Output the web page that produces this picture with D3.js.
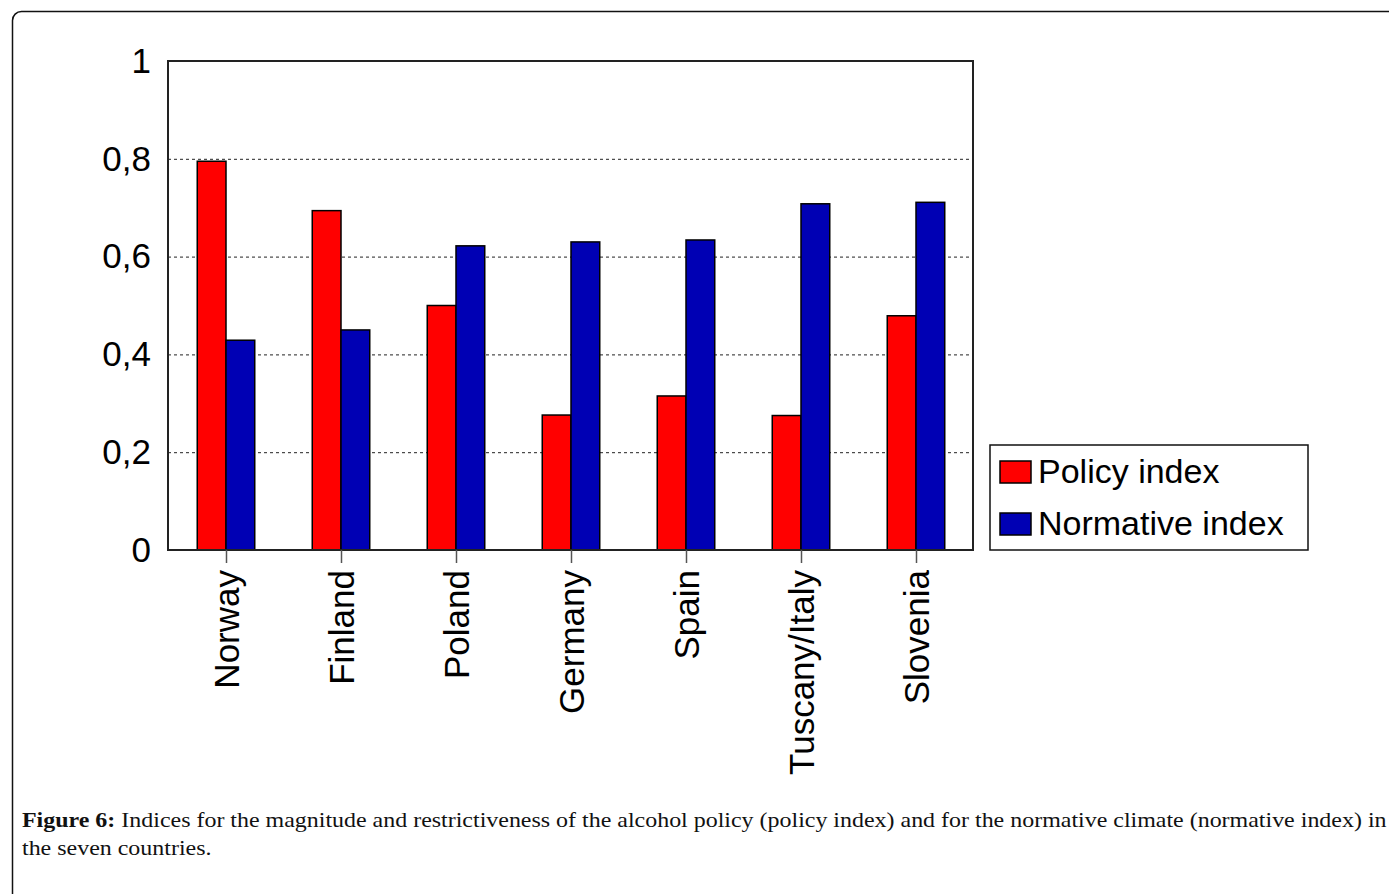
<!DOCTYPE html>
<html>
  <head>
    <meta charset="utf-8">
    <title>Policy and normative index</title>
    <style>
      body { margin: 0; background: #fff; }
      .axis text { font-family: "Liberation Sans", Arial, sans-serif; font-size: 35px; fill: #000; }
      .grid line { stroke: #222; stroke-dasharray: 3,3; }
      .caption { font-family: "Liberation Serif", serif; font-size: 21px; fill: #111; }
    </style>
  </head>
  <body>
    <script src="https://cdn.jsdelivr.net/npm/d3@7"></script>
    <script>
    var countries = ["Norway", "Finland", "Poland", "Germany", "Spain", "Tuscany/Italy", "Slovenia"];
    var policyIndex = [0.795, 0.694, 0.5, 0.276, 0.315, 0.275, 0.479];
    var normativeIndex = [0.429, 0.45, 0.622, 0.63, 0.634, 0.708, 0.711];
    var seriesNames = ["Policy index", "Normative index"];
    var seriesColors = ["#ff0000", "#0000b4"];
    var yTicks = [0, 0.2, 0.4, 0.6, 0.8, 1];

    var width = 1389, height = 894;
    var svg = d3.select("body").append("svg")
      .attr("width", width).attr("height", height);

    // outer frame (runs off the right and bottom edge)
    svg.append("rect")
      .attr("x", 12.5).attr("y", 11.5)
      .attr("width", 1500).attr("height", 1000)
      .attr("rx", 9)
      .attr("fill", "none").attr("stroke", "#111").attr("stroke-width", 1.5);

    var plot = { left: 168, right: 973, top: 61, bottom: 550 };

    var x = d3.scaleBand()
      .domain(countries)
      .range([plot.left, plot.right])
      .paddingInner(0.5).paddingOuter(0.25);
    var xSub = d3.scaleBand()
      .domain(seriesNames)
      .range([0, x.bandwidth()]);
    var y = d3.scaleLinear()
      .domain([0, 1])
      .range([plot.bottom, plot.top]);

    // grid lines
    svg.append("g").attr("class", "grid")
      .selectAll("line")
      .data(yTicks.filter(d => d > 0 && d < 1))
      .enter().append("line")
      .attr("x1", plot.left).attr("x2", plot.right)
      .attr("y1", d => y(d) + 0.5).attr("y2", d => y(d) + 0.5);

    // bars
    var rows = countries.map((c, i) => ({ country: c, values: [policyIndex[i], normativeIndex[i]] }));
    var groups = svg.append("g").selectAll("g")
      .data(rows).enter().append("g")
      .attr("transform", d => "translate(" + (x(d.country) + 0.5) + ",0)");
    groups.selectAll("rect")
      .data(d => d.values.map((v, j) => ({ name: seriesNames[j], value: v, color: seriesColors[j] })))
      .enter().append("rect")
      .attr("x", d => xSub(d.name))
      .attr("y", d => y(d.value))
      .attr("width", xSub.bandwidth())
      .attr("height", d => y(0) - y(d.value))
      .attr("fill", d => d.color)
      .attr("stroke", "#000").attr("stroke-width", 1.5);

    // plot frame
    svg.append("rect")
      .attr("x", plot.left).attr("y", plot.top)
      .attr("width", plot.right - plot.left).attr("height", plot.bottom - plot.top)
      .attr("fill", "none").attr("stroke", "#222").attr("stroke-width", 2);

    // y axis labels
    var yAxis = d3.axisLeft(y)
      .tickValues(yTicks)
      .tickSize(0).tickPadding(17)
      .tickFormat(d => String(d).replace(".", ","));
    svg.append("g").attr("class", "axis")
      .attr("transform", "translate(" + plot.left + ",0)")
      .call(yAxis)
      .call(g => g.select(".domain").remove());

    // x axis
    var xAxis = d3.axisBottom(x).tickSize(13).tickPadding(8);
    var gx = svg.append("g").attr("class", "axis")
      .attr("transform", "translate(1," + plot.bottom + ")")
      .call(xAxis);
    gx.select(".domain").remove();
    gx.selectAll(".tick line").attr("stroke", "#555").attr("stroke-width", 1.5);
    gx.selectAll(".tick text")
      .attr("transform", "rotate(-90)")
      .attr("x", -20).attr("y", 0)
      .attr("dy", "0.35em")
      .attr("text-anchor", "end");

    // legend
    var legend = svg.append("g").attr("transform", "translate(990,445)");
    legend.append("rect")
      .attr("width", 318).attr("height", 105)
      .attr("fill", "#fff").attr("stroke", "#111").attr("stroke-width", 1.5);
    var items = legend.selectAll(".item")
      .data(seriesNames).enter().append("g")
      .attr("transform", (d, i) => "translate(10," + (16 + i * 52) + ")");
    items.append("rect")
      .attr("width", 31).attr("height", 22)
      .attr("fill", (d, i) => seriesColors[i])
      .attr("stroke", "#000").attr("stroke-width", 1.5);
    items.append("text")
      .attr("x", 38).attr("y", 22)
      .attr("font-family", "Liberation Sans, Arial, sans-serif")
      .attr("font-size", 34)
      .text(d => d);

    // caption
    var cap1 = svg.append("text").attr("class", "caption")
      .attr("x", 0).attr("y", 0);
    cap1.append("tspan").attr("font-weight", "bold").text("Figure 6:");
    cap1.append("tspan").text(" Indices for the magnitude and restrictiveness of the alcohol policy (policy index) and for the normative climate (normative index) in");
    var w1 = cap1.node().getComputedTextLength();
    var sx = (1387 - 22) / w1;
    cap1.attr("transform", "translate(22,827) scale(" + sx + ",1)");
    svg.append("text").attr("class", "caption")
      .attr("transform", "translate(22,855) scale(" + sx + ",1)")
      .text("the seven countries.");
    </script>
  </body>
</html>
